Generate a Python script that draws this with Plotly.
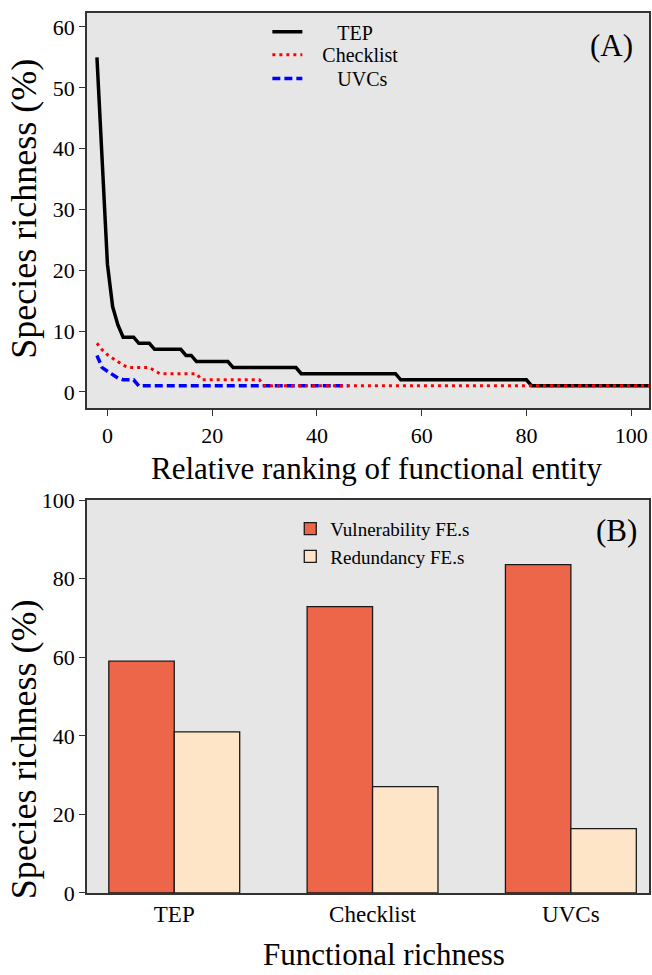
import plotly.graph_objects as go

# ---------------- Panel A data ----------------
tep_rank = [-2, -1, 0, 1, 2, 3, 5, 6, 8, 9, 14, 15, 16, 17, 23, 24, 36, 37, 55, 56, 80, 81, 104]
tep_rich = [55, 38, 21, 14, 11, 9, 9, 8, 8, 7, 7, 6, 6, 5, 5, 4, 4, 3, 3, 2, 2, 1, 1]

check_rank = [-2, -1, 0, 1, 2, 3, 4, 8, 9, 10, 17, 18, 29, 30, 104]
check_rich = [8, 6.9, 6.1, 5.5, 5, 4.4, 4, 4, 3.5, 3, 3, 2, 2, 1, 1]

uvc_rank = [-2, -1, 0, 1, 2, 3, 5, 6, 46]
uvc_rich = [6, 4, 3.4, 2.9, 2.3, 2, 2, 1, 1]

x_ticks_a = [0, 20, 40, 60, 80, 100]
y_ticks_a = [0, 10, 20, 30, 40, 50, 60]

# ---------------- Panel B data ----------------
methods = ["TEP", "Checklist", "UVCs"]
vulnerability = [59.0, 72.9, 83.6]
redundancy = [41.0, 27.1, 16.4]
y_ticks_b = [0, 20, 40, 60, 80, 100]

FONT = "Liberation Serif"
W, H = 652, 975
ML, MR, MT, MB = 87, 1, 6, 82
PW = W - ML - MR
PH = H - MT - MB


def px_x(px):
    return (px - ML) / PW


def px_y(py):
    return (H - MB - py) / PH


fig = go.Figure()

fig.add_trace(go.Scatter(
    x=tep_rank, y=tep_rich, mode="lines", name="\u00a0" * 6 + "TEP",
    line=dict(color="black", width=3.5), xaxis="x", yaxis="y", legend="legend"))
fig.add_trace(go.Scatter(
    x=uvc_rank, y=uvc_rich, mode="lines", name="\u00a0" * 6 + "UVCs",
    line=dict(color="#0000FF", width=3.5, dash="8px,4px"), xaxis="x", yaxis="y",
    legend="legend3"))
fig.add_trace(go.Scatter(
    x=check_rank, y=check_rich, mode="lines", name="\u00a0" * 3 + "Checklist",
    line=dict(color="#FF0000", width=3, dash="3px,4px"), xaxis="x", yaxis="y",
    legend="legend2"))

fig.add_trace(go.Bar(
    x=methods, y=vulnerability, name="Vulnerability FE.s",
    marker=dict(color="#EE664A", line=dict(color="#1a1a1a", width=1.3)),
    xaxis="x2", yaxis="y2", legend="legend4"))
fig.add_trace(go.Bar(
    x=methods, y=redundancy, name="Redundancy FE.s",
    marker=dict(color="#FFE5C7", line=dict(color="#1a1a1a", width=1.3)),
    xaxis="x2", yaxis="y2", legend="legend4"))

top_dom = [px_y(404.5), 1.0]
bot_dom = [0.0, px_y(497)]

axis_common = dict(
    showline=True, linecolor="#333333", linewidth=1.5, mirror=True,
    ticks="outside", ticklen=6, tickwidth=1.3, tickcolor="#333333",
    showgrid=False, zeroline=False,
    tickfont=dict(family=FONT, size=22, color="black"),
)

leg_common = dict(
    bgcolor="rgba(0,0,0,0)", borderwidth=0, xanchor="left", yanchor="middle",
    font=dict(family=FONT, size=20, color="black"),
)

fig.update_layout(
    width=W, height=H,
    margin=dict(l=ML, r=MR, t=MT, b=MB),
    paper_bgcolor="white",
    plot_bgcolor="#E6E6E6",
    barmode="group", bargap=0.34, bargroupgap=0,
    xaxis=dict(domain=[0, 1], anchor="y", range=[-3.9, 103.4],
               tickvals=x_ticks_a, **axis_common),
    yaxis=dict(domain=top_dom, anchor="x", range=[-2.7, 62.3],
               tickvals=y_ticks_a, **axis_common),
    xaxis2=dict(domain=[0, 1], anchor="y2", range=[-0.44, 2.394],
                **{**axis_common, "ticks": "",
                   "tickfont": dict(family=FONT, size=23, color="black")}),
    yaxis2=dict(domain=bot_dom, anchor="x2", range=[0, 100],
                tickvals=y_ticks_b, **axis_common),
    legend=dict(x=px_x(268), y=px_y(25), **leg_common),
    legend2=dict(x=px_x(268), y=px_y(48), **leg_common),
    legend3=dict(x=px_x(268), y=px_y(72), **leg_common),
    legend4=dict(x=px_x(291), y=px_y(540), bgcolor="rgba(0,0,0,0)",
                 xanchor="left", yanchor="middle", tracegroupgap=0,
                 font=dict(family=FONT, size=19, color="black")),
    showlegend=True,
)

ann = [
    dict(text="Species richness (%)", x=px_x(24), y=px_y(203), textangle=-90,
         font=dict(family=FONT, size=36)),
    dict(text="Relative ranking of functional entity", x=px_x(378), y=px_y(465),
         font=dict(family=FONT, size=31)),
    dict(text="Species richness (%)", x=px_x(24), y=px_y(748), textangle=-90,
         font=dict(family=FONT, size=36)),
    dict(text="Functional richness", x=px_x(385), y=px_y(955),
         font=dict(family=FONT, size=31)),
    dict(text="(A)", x=px_x(613), y=px_y(39), font=dict(family=FONT, size=31)),
    dict(text="(B)", x=px_x(618), y=px_y(528), font=dict(family=FONT, size=31)),
]
for a in ann:
    a.update(xref="paper", yref="paper", showarrow=False,
             xanchor="center", yanchor="middle")
    a["font"]["color"] = "black"
fig.update_layout(annotations=ann)

fig.write_html("out.html")
